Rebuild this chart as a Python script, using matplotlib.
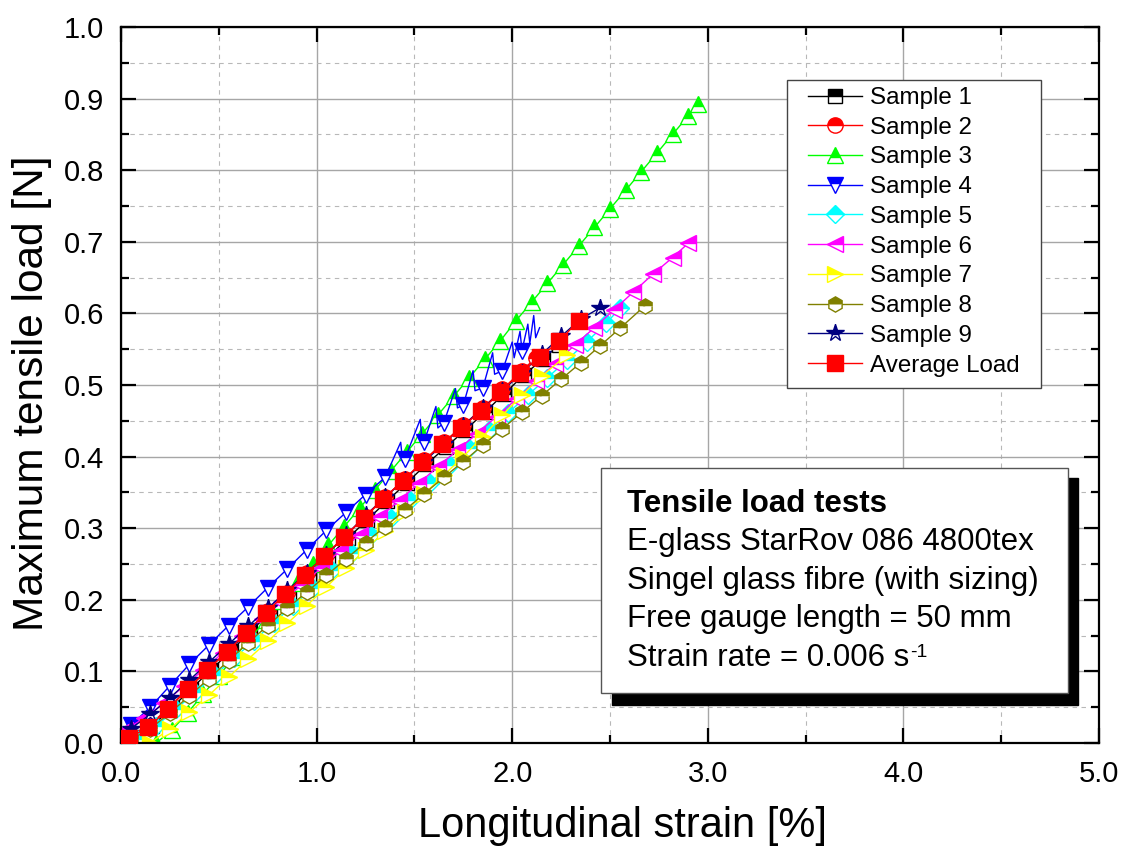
import matplotlib
matplotlib.use("Agg")
import matplotlib.pyplot as plt
from matplotlib.patches import Rectangle
from matplotlib.ticker import MultipleLocator, FormatStrFormatter

plt.rcParams['font.family'] = ['Liberation Sans', 'DejaVu Sans']

# strain [%] / load [N]
s1_x = [0.06, 0.16, 0.26, 0.36, 0.46, 0.56, 0.66, 0.76, 0.86, 0.96, 1.06, 1.16, 1.26, 1.36,
        1.46, 1.56, 1.66, 1.76, 1.86, 1.96, 2.06, 2.16, 2.24]
s1_y = [0.008, 0.024, 0.049, 0.076, 0.102, 0.128, 0.155, 0.182, 0.208, 0.234, 0.260, 0.286,
        0.312, 0.338, 0.363, 0.389, 0.413, 0.437, 0.462, 0.488, 0.514, 0.537, 0.556]

s2_x = [0.05, 0.15, 0.25, 0.35, 0.45, 0.55, 0.65, 0.75, 0.85, 0.95, 1.05, 1.15, 1.25, 1.35,
        1.45, 1.55, 1.65, 1.75, 1.85, 1.95, 2.05, 2.12]
s2_y = [0.010, 0.026, 0.051, 0.078, 0.104, 0.130, 0.157, 0.184, 0.210, 0.237, 0.263, 0.290,
        0.316, 0.343, 0.369, 0.395, 0.420, 0.444, 0.468, 0.494, 0.520, 0.538]

s3_x = [0.18, 0.26, 0.34, 0.42, 0.50, 0.58, 0.66, 0.74, 0.82, 0.90, 0.98, 1.06, 1.14, 1.22,
        1.30, 1.38, 1.46, 1.54, 1.62, 1.70, 1.78, 1.86, 1.94, 2.02, 2.10, 2.18, 2.26, 2.34,
        2.42, 2.50, 2.58, 2.66, 2.74, 2.82, 2.90, 2.95]
s3_y = [0.000, 0.018, 0.042, 0.068, 0.094, 0.120, 0.146, 0.172, 0.198, 0.224, 0.250, 0.276,
        0.302, 0.328, 0.354, 0.380, 0.406, 0.432, 0.458, 0.484, 0.510, 0.536, 0.562, 0.590,
        0.616, 0.642, 0.668, 0.694, 0.720, 0.746, 0.772, 0.798, 0.824, 0.850, 0.876, 0.893]

# sample 4 is noisy: points at x.x5 carry the markers, the others are spikes
s4_x = [0.05, 0.15, 0.25, 0.35, 0.45, 0.55, 0.65, 0.75, 0.85, 0.95, 1.05, 1.15, 1.25, 1.35,
        1.43, 1.44, 1.45, 1.53, 1.54, 1.55, 1.61, 1.62, 1.65, 1.71, 1.72, 1.75, 1.80, 1.81,
        1.85, 1.90, 1.91, 1.95, 2.00, 2.01, 2.04, 2.05, 2.08, 2.09, 2.11, 2.12, 2.14]
s4_y = [0.025, 0.050, 0.080, 0.110, 0.137, 0.164, 0.190, 0.217, 0.243, 0.270, 0.297, 0.322,
        0.347, 0.371, 0.420, 0.392, 0.396, 0.452, 0.418, 0.421, 0.470, 0.440, 0.447, 0.495,
        0.468, 0.472, 0.520, 0.492, 0.496, 0.545, 0.515, 0.520, 0.560, 0.538, 0.575, 0.548,
        0.585, 0.558, 0.597, 0.566, 0.580]

s5_x = [0.08, 0.18, 0.28, 0.38, 0.48, 0.58, 0.68, 0.78, 0.88, 0.98, 1.08, 1.18, 1.28, 1.38,
        1.48, 1.58, 1.68, 1.78, 1.88, 1.98, 2.08, 2.18, 2.28, 2.38, 2.48, 2.55]
s5_y = [0.005, 0.024, 0.047, 0.071, 0.095, 0.119, 0.143, 0.168, 0.192, 0.216, 0.241, 0.265,
        0.290, 0.314, 0.339, 0.363, 0.388, 0.412, 0.437, 0.461, 0.486, 0.510, 0.535, 0.560,
        0.586, 0.607]

s6_x = [0.02, 0.12, 0.22, 0.32, 0.42, 0.52, 0.62, 0.72, 0.82, 0.92, 1.02, 1.12, 1.22, 1.32,
        1.42, 1.52, 1.62, 1.72, 1.82, 1.92, 2.02, 2.12, 2.22, 2.32, 2.42, 2.52, 2.62, 2.72,
        2.82, 2.90]
s6_y = [0.018, 0.035, 0.056, 0.079, 0.102, 0.126, 0.149, 0.173, 0.197, 0.220, 0.244, 0.268,
        0.291, 0.315, 0.338, 0.362, 0.386, 0.409, 0.432, 0.456, 0.480, 0.505, 0.530, 0.556,
        0.580, 0.605, 0.630, 0.655, 0.678, 0.698]

s7_x = [0.15, 0.25, 0.35, 0.45, 0.55, 0.65, 0.75, 0.85, 0.95, 1.05, 1.15, 1.25, 1.35, 1.45,
        1.55, 1.65, 1.75, 1.85, 1.95, 2.05, 2.15, 2.28]
s7_y = [0.000, 0.020, 0.043, 0.067, 0.092, 0.117, 0.142, 0.167, 0.192, 0.218, 0.244, 0.270,
        0.296, 0.322, 0.348, 0.374, 0.400, 0.428, 0.458, 0.486, 0.512, 0.542]

s8_x = [0.05, 0.15, 0.25, 0.35, 0.45, 0.55, 0.65, 0.75, 0.85, 0.95, 1.05, 1.15, 1.25, 1.35,
        1.45, 1.55, 1.65, 1.75, 1.85, 1.95, 2.05, 2.15, 2.25, 2.35, 2.45, 2.55, 2.68]
s8_y = [0.005, 0.020, 0.042, 0.066, 0.090, 0.115, 0.140, 0.164, 0.188, 0.211, 0.234, 0.257,
        0.280, 0.302, 0.325, 0.348, 0.371, 0.393, 0.416, 0.439, 0.462, 0.485, 0.508, 0.531,
        0.555, 0.579, 0.611]

s9_x = [0.05, 0.15, 0.25, 0.35, 0.45, 0.55, 0.65, 0.75, 0.85, 0.95, 1.05, 1.15, 1.25, 1.35,
        1.45, 1.55, 1.65, 1.75, 1.85, 1.95, 2.05, 2.15, 2.25, 2.35, 2.45]
s9_y = [0.020, 0.040, 0.063, 0.088, 0.113, 0.138, 0.163, 0.188, 0.213, 0.238, 0.263, 0.290,
        0.318, 0.343, 0.368, 0.393, 0.418, 0.443, 0.468, 0.492, 0.517, 0.543, 0.568, 0.592,
        0.608]

avg_x = [0.04, 0.14, 0.24, 0.34, 0.44, 0.54, 0.64, 0.74, 0.84, 0.94, 1.04, 1.14, 1.24, 1.34,
         1.44, 1.54, 1.64, 1.74, 1.84, 1.94, 2.04, 2.14, 2.24, 2.34]
avg_y = [0.007, 0.022, 0.047, 0.075, 0.102, 0.127, 0.154, 0.182, 0.208, 0.235, 0.261, 0.288,
         0.314, 0.341, 0.366, 0.392, 0.417, 0.440, 0.464, 0.490, 0.517, 0.539, 0.561, 0.590]

series = [
    ("Sample 1", s1_x, s1_y, "#000000", "s", 10),
    ("Sample 2", s2_x, s2_y, "#ff0000", "o", 11),
    ("Sample 3", s3_x, s3_y, "#00ff00", "^", 11),
    ("Sample 4", s4_x, s4_y, "#0000ff", "v", 11),
    ("Sample 5", s5_x, s5_y, "#00ffff", "D", 9),
    ("Sample 6", s6_x, s6_y, "#ff00ff", "<", 11),
    ("Sample 7", s7_x, s7_y, "#ffff00", ">", 11),
    ("Sample 8", s8_x, s8_y, "#808000", "h", 11),
    ("Sample 9", s9_x, s9_y, "#000080", "*", 13),
]

fig = plt.figure(figsize=(11.28, 8.49), dpi=100)
ax = fig.add_axes([121 / 1128, 1 - 743 / 849, 978 / 1128, 716 / 849])

for name, xs, ys, col, mk, ms in series:
    every = None
    if name == "Sample 4":
        every = [i for i, x in enumerate(xs) if round(x * 100) % 10 == 5]
    ax.plot(xs, ys, color=col, lw=1.0, marker=mk, ms=ms, mew=1.0, markevery=every,
            mfc=col, mec=col, fillstyle='top', markerfacecoloralt='white', label=name)

ax.plot(avg_x, avg_y, color="#ff0000", lw=1.0, marker="s", ms=12, mfc="#ff0000",
        mec="#ff0000", label="Average Load", zorder=5)

ax.set_xlim(0, 5)
ax.set_ylim(0, 1.0)
ax.xaxis.set_major_locator(MultipleLocator(1.0))
ax.xaxis.set_minor_locator(MultipleLocator(0.5))
ax.yaxis.set_major_locator(MultipleLocator(0.1))
ax.yaxis.set_minor_locator(MultipleLocator(0.05))
ax.xaxis.set_major_formatter(FormatStrFormatter('%.1f'))
ax.yaxis.set_major_formatter(FormatStrFormatter('%.1f'))

ax.grid(which='major', color='#a6a6a6', lw=1.0, ls='-')
ax.grid(which='minor', color='#b8b8b8', lw=0.8, ls=(0, (4, 4)))
ax.set_axisbelow(True)

ax.tick_params(which='both', direction='in', top=True, right=True, width=1.6)
ax.tick_params(which='major', length=11, labelsize=21, pad=12)
ax.tick_params(which='minor', length=6)
for sp in ax.spines.values():
    sp.set_linewidth(1.6)

ax.set_xlabel('Longitudinal strain [%]', fontsize=30)
ax.set_ylabel('Maximum tensile load [N]', fontsize=30.5)
ax.xaxis.set_label_coords(0.513, -0.088)
ax.yaxis.set_label_coords(-0.071, 0.489)

# legend frame drawn by hand, entries placed inside it
fig.add_artist(Rectangle((787 / 1128, 1 - 388 / 849), (1041 - 787) / 1128, (388 - 80) / 849,
                         transform=fig.transFigure, facecolor='white',
                         edgecolor='#444444', lw=1.0, zorder=4))
leg = ax.legend(loc='upper left', bbox_to_anchor=(808 / 1128, 1 - 87 / 849),
                bbox_transform=fig.transFigure, fontsize=17.4, frameon=False,
                borderpad=0, labelspacing=0.32, handlelength=2.23, handletextpad=0.33,
                borderaxespad=0)
leg.remove()
fig.add_artist(leg)
leg.set_zorder(6)

# info box with drop shadow
ax.add_patch(Rectangle(((612 - 121) / 978, (743 - 705) / 716), (1078 - 612) / 978,
                       (705 - 478) / 716, transform=ax.transAxes, color='black', zorder=6))
ax.add_patch(Rectangle(((601 - 121) / 978, (743 - 693) / 716), (1068 - 601) / 978,
                       (693 - 468) / 716, transform=ax.transAxes, facecolor='white',
                       edgecolor='#555555', lw=1.0, zorder=7))

lines = ["E-glass StarRov 086 4800tex", "Singel glass fibre (with sizing)",
         "Free gauge length = 50 mm", "Strain rate = 0.006 s"]
fig.text(627 / 1128, 1 - 512 / 849, "Tensile load tests", fontsize=22.5, fontweight='bold',
         va='baseline', zorder=8)
last = None
for i, t in enumerate(lines):
    last = fig.text(627 / 1128, 1 - (550 + 38.5 * i) / 849, t, fontsize=22.5,
                    va='baseline', zorder=8)
ax.annotate("-1", xy=(1, 1), xycoords=last, xytext=(0.5, -1),
            textcoords='offset points', fontsize=14, va='top', ha='left', zorder=8,
            annotation_clip=False)

fig.savefig("out.png", dpi=100)
